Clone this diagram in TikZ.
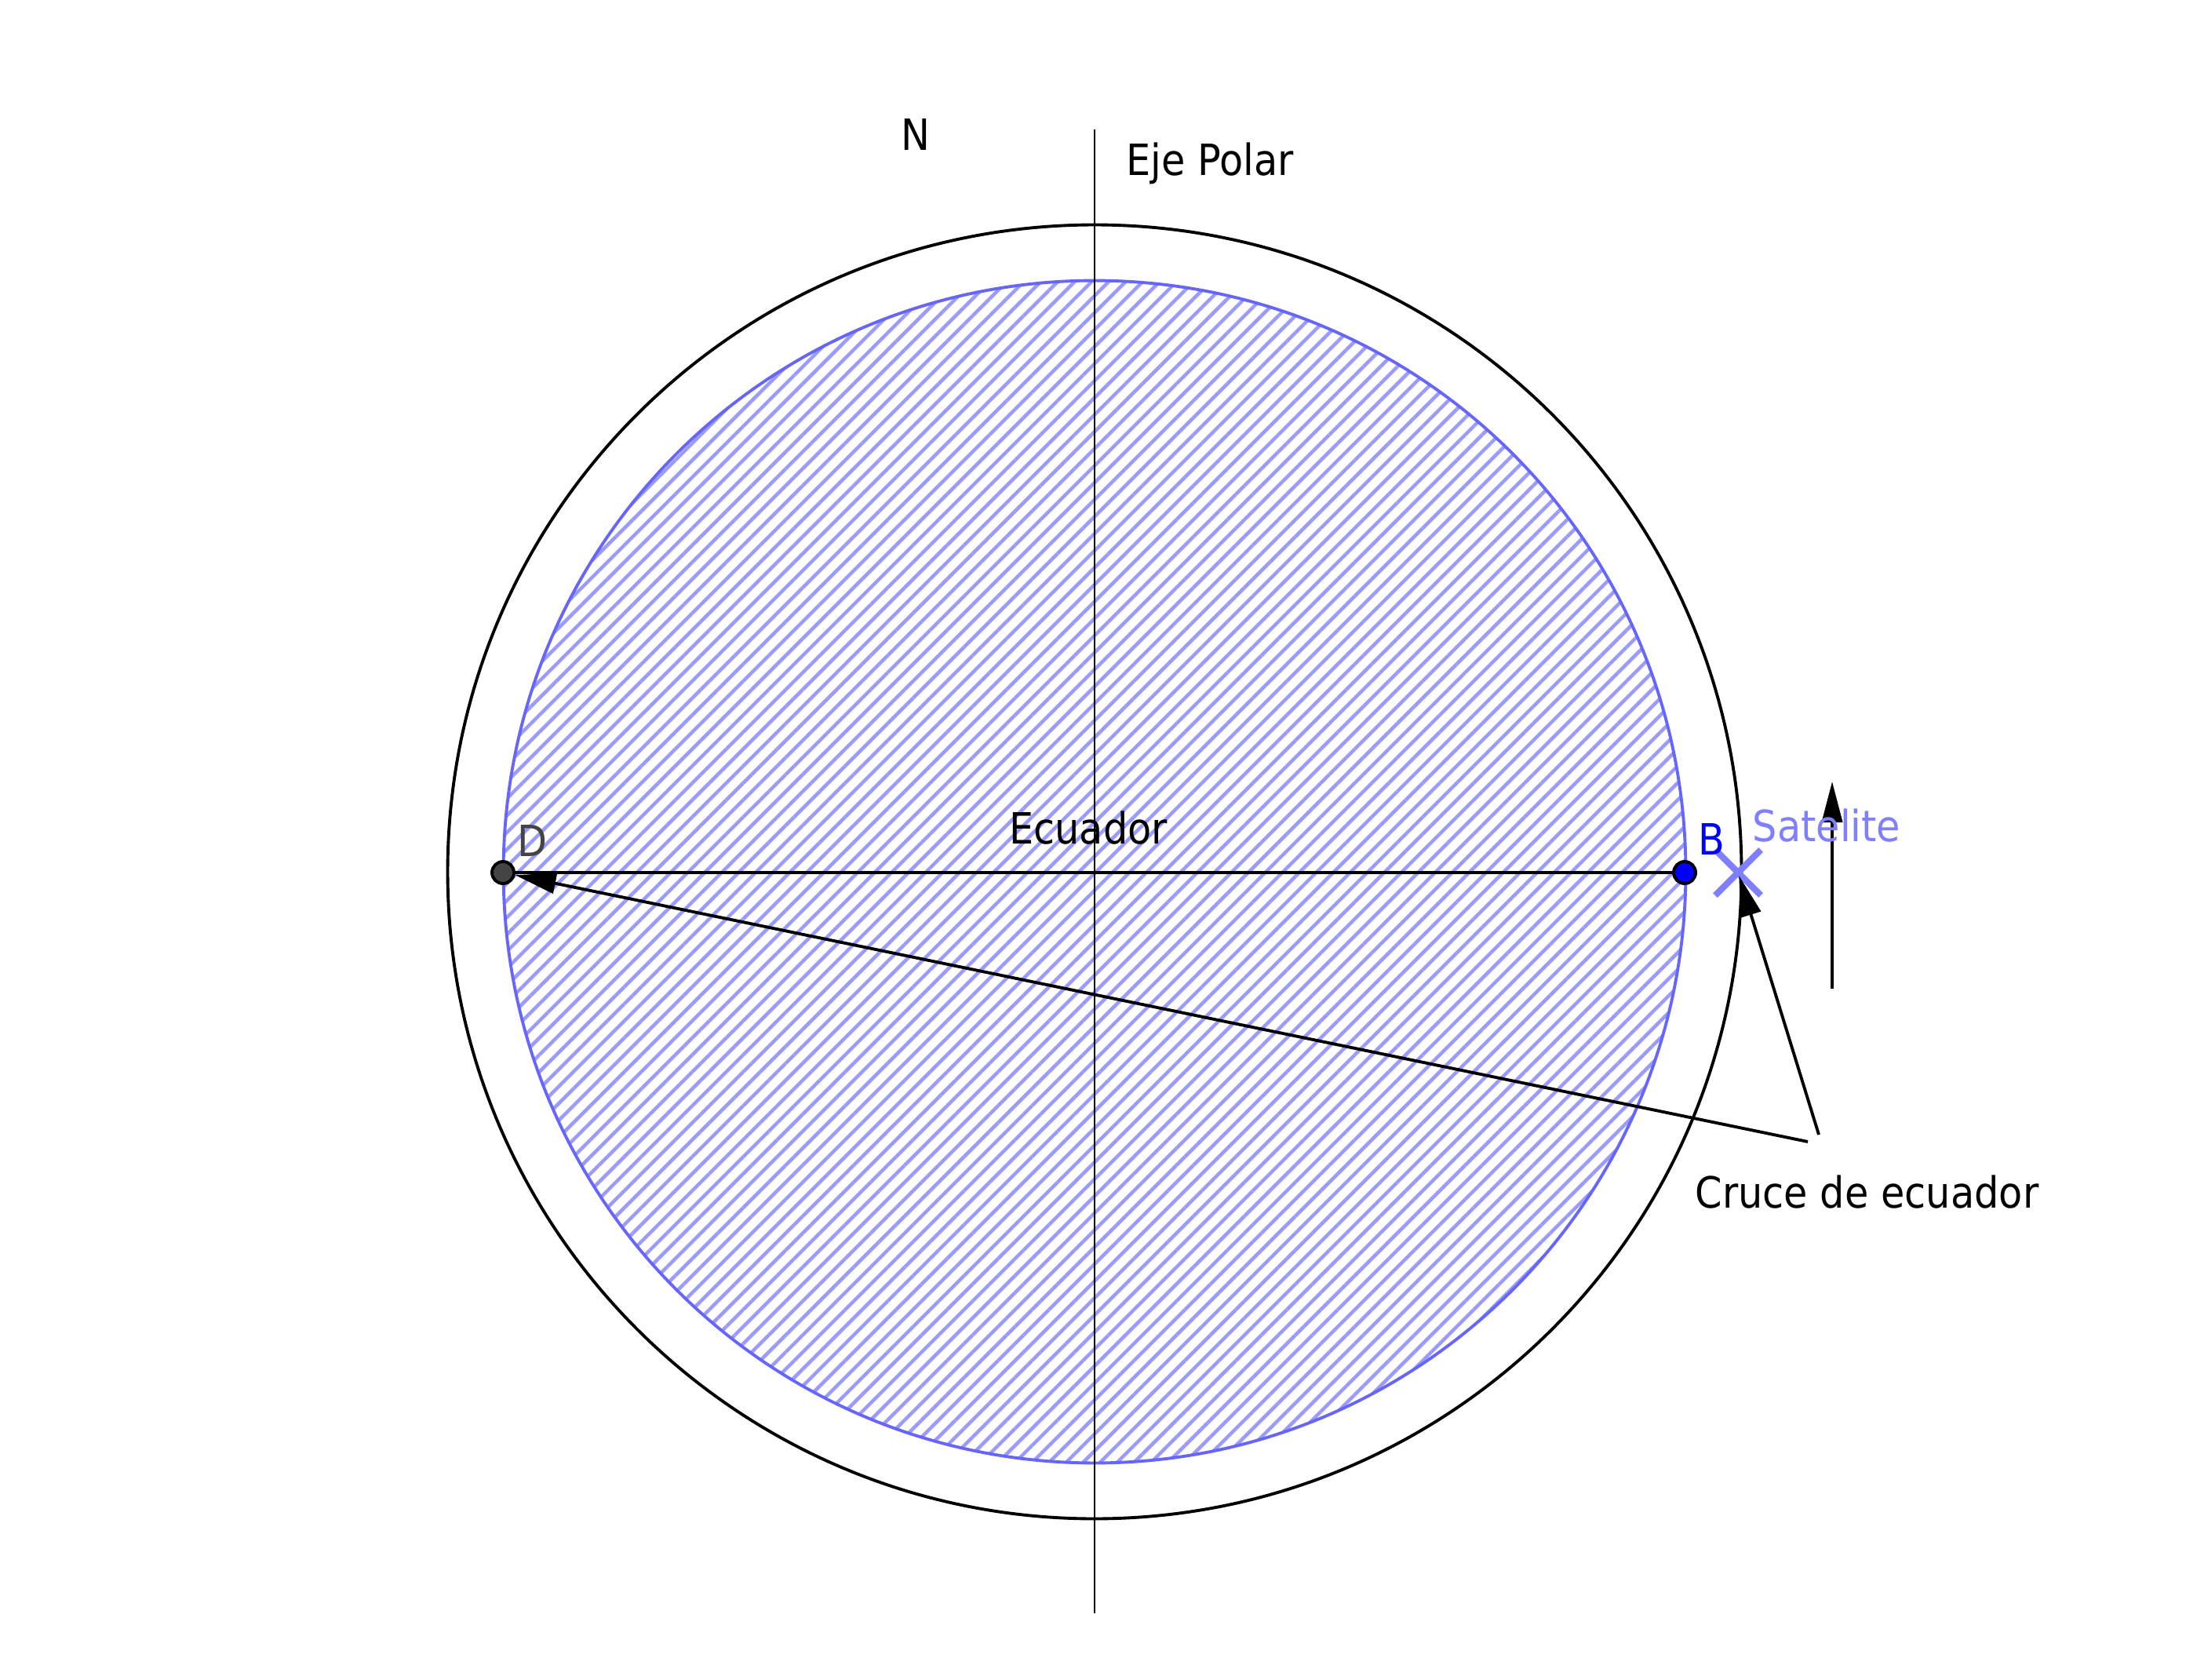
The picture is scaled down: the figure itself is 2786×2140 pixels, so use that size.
\documentclass[tikz,border=0pt]{standalone}
\usepackage{fontspec}
\setmainfont{DejaVu Sans}[FakeStretch=0.9]
\usepackage{tikz}
\usetikzlibrary{arrows.meta,patterns.meta,shapes.misc}
\definecolor{sblue}{HTML}{6666FF}
\definecolor{shatch}{HTML}{9A9AFF}
\definecolor{slite}{HTML}{7F7FFF}
\definecolor{dgrey}{HTML}{444444}

\begin{document}
\begin{tikzpicture}[x=0.01cm,y=-0.01cm,
  lbl/.style={font=\fontsize{15.6}{18}\selectfont,inner sep=0pt},
  pt/.style={circle,draw=black,line width=1.1pt,inner sep=0pt,minimum size=0.28cm},
  arr/.style={-{Triangle[length=0.52cm,width=0.26cm]},line width=1.1pt},
  ring/.style={line width=1.1pt}]
  \useasboundingbox (0,0) rectangle (2786,2140);
  \coordinate (o) at (1395,1111);
  % earth and orbit
  \draw[ring] (o) circle[radius=8.24cm];
  \draw[sblue,line width=1.1pt,pattern={Lines[angle=45,distance=0.153cm,line width=0.045cm]},
        pattern color=shatch] (o) circle[radius=7.53cm];
  \coordinate (pn) at (1395,165);
  \coordinate (ps) at (1395,2056);
  \draw[line width=0.6pt] (pn) -- (ps);
  \node[pt,fill=dgrey] (D) at (641,1112) {};
  \node[pt,fill=blue] (B) at (2147,1112) {};
  \draw[line width=1.1pt] (D) -- (B);
  \node[cross out,draw=slite,line width=2.3pt,minimum size=0.5cm,inner sep=0pt] (sat) at (2215,1112) {};
  % pointers
  \coordinate (e1) at (2304,1455);
  \coordinate (e2) at (2318,1446);
  \draw[arr] (e1) -- (D);
  \draw[arr,shorten >=0.04cm] (e2) -- (sat.center);
  \coordinate (v0) at (2335,1260);
  \coordinate (v1) at (2335,996);
  \draw[arr] (v0) -- (v1);
  % labels
  \node[lbl,anchor=base] (n) at (1167,192) {N};
  \node[lbl,anchor=base west] (eje) at (1435,224) {Eje Polar};
  \node[lbl,anchor=base] (ecu) at (1387,1075) {Ecuador};
  \node[lbl,anchor=base west,text=dgrey] (dl) at (659,1091) {D};
  \node[lbl,anchor=base west,text=blue] (bl) at (2164,1089) {B};
  \node[lbl,anchor=base west,text=slite] (satl) at (2233,1072) {Satelite};
  \node[lbl,anchor=base west] (cruce) at (2160,1539) {Cruce de ecuador};
\end{tikzpicture}
\end{document}
